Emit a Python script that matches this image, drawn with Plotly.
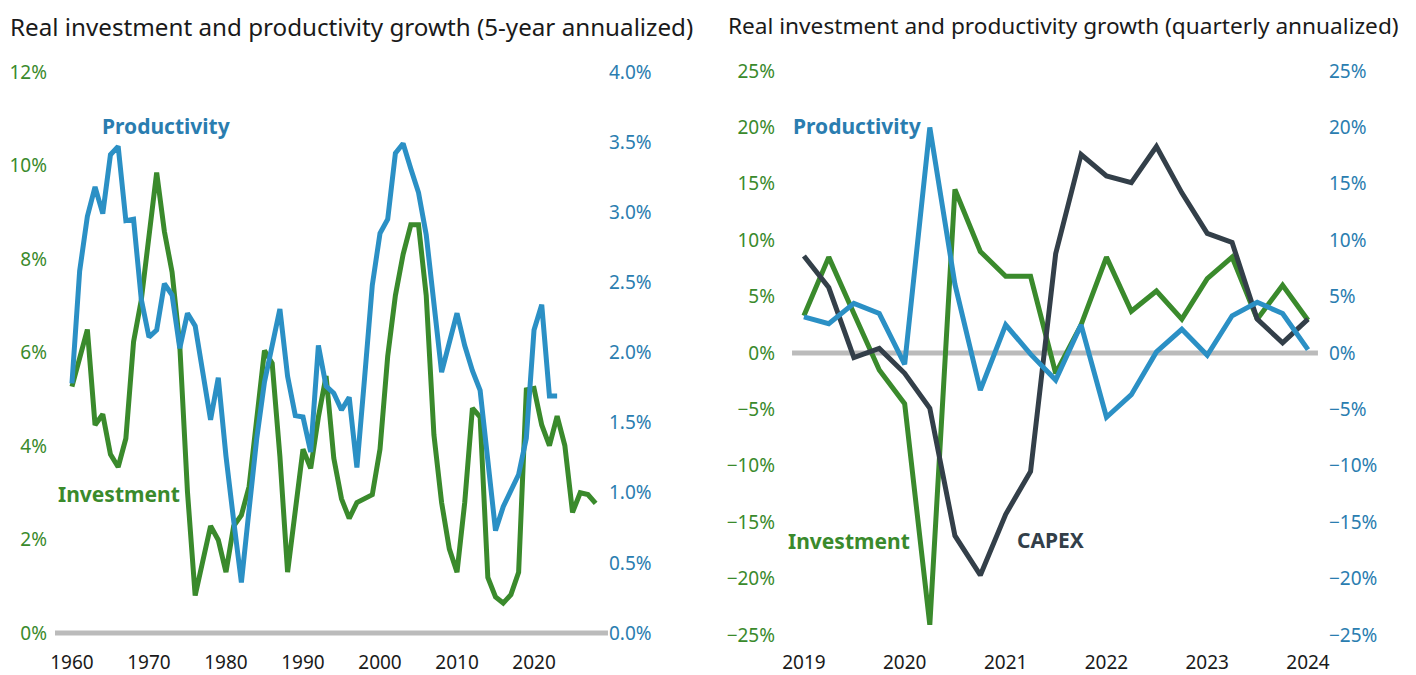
import plotly.graph_objects as go

# Left chart: 5-year annualized growth, annual points
years_inv = list(range(1960, 2029))
investment_5y = [
    5.27, 5.84, 6.49, 4.45, 4.68, 3.82, 3.55, 4.16, 6.23, 7.12,
    8.60, 9.85, 8.59, 7.72, 6.15, 3.02, 0.80, 1.49, 2.29, 1.99,
    1.30, 2.29, 2.52, 3.13, 4.55, 6.04, 5.77, 3.78, 1.30, 2.64,
    3.93, 3.52, 4.62, 5.50, 3.74, 2.87, 2.45, 2.79, 2.88, 2.96,
    3.93, 5.92, 7.22, 8.10, 8.73, 8.73, 7.22, 4.24, 2.79, 1.80,
    1.30, 2.79, 4.81, 4.62, 1.19, 0.77, 0.64, 0.82, 1.30, 5.20,
    5.23, 4.45, 4.01, 4.64, 4.01, 2.58, 3.00, 2.96, 2.77,
]
years_prod = list(range(1960, 2024))
productivity_5y = [
    1.78, 2.58, 2.97, 3.18, 2.99, 3.41, 3.47, 2.94, 2.95, 2.38,
    2.11, 2.16, 2.49, 2.41, 2.03, 2.28, 2.19, 1.85, 1.52, 1.82,
    1.26, 0.80, 0.36, 0.88, 1.39, 1.79, 2.07, 2.31, 1.83, 1.55,
    1.54, 1.29, 2.05, 1.76, 1.71, 1.59, 1.68, 1.18, 1.82, 2.48,
    2.85, 2.95, 3.42, 3.49, 3.31, 3.14, 2.84, 2.35, 1.86, 2.07,
    2.28, 2.05, 1.87, 1.73, 1.21, 0.73, 0.90, 1.02, 1.13, 1.39,
    2.16, 2.34, 1.69, 1.69,
]
left_year_ticks = [1960, 1970, 1980, 1990, 2000, 2010, 2020]
inv_ticks = [0, 2, 4, 6, 8, 10, 12]
inv_tick_text = ["0%", "2%", "4%", "6%", "8%", "10%", "12%"]
prod_ticks = [0, 0.5, 1, 1.5, 2, 2.5, 3, 3.5, 4]
prod_tick_text = ["0.0%", "0.5%", "1.0%", "1.5%", "2.0%", "2.5%", "3.0%", "3.5%", "4.0%"]

# Right chart: quarterly annualized growth, 2019Q1 - 2024Q1
quarters = [
    "2019-01-01", "2019-04-01", "2019-07-01", "2019-10-01",
    "2020-01-01", "2020-04-01", "2020-07-01", "2020-10-01",
    "2021-01-01", "2021-04-01", "2021-07-01", "2021-10-01",
    "2022-01-01", "2022-04-01", "2022-07-01", "2022-10-01",
    "2023-01-01", "2023-04-01", "2023-07-01", "2023-10-01",
    "2024-01-01",
]
investment_q = [
    3.3, 8.5, 3.5, -1.5, -4.5, -24.1, 14.5, 9.0, 6.8, 6.8, -1.8,
    2.5, 8.5, 3.7, 5.5, 3.0, 6.6, 8.5, 3.0, 6.0, 2.9,
]
productivity_q = [
    3.2, 2.6, 4.4, 3.5, -1.0, 20.0, 6.1, -3.3, 2.5, -0.1, -2.4,
    2.5, -5.7, -3.7, 0.1, 2.1, -0.2, 3.3, 4.5, 3.5, 0.3,
]
capex_q = [
    8.6, 5.8, -0.4, 0.4, -1.8, -4.9, -16.2, -19.7, -14.3, -10.5, 8.8,
    17.6, 15.7, 15.1, 18.3, 14.2, 10.6, 9.8, 3.0, 0.9, 3.0,
]
q_ticks = [-25, -20, -15, -10, -5, 0, 5, 10, 15, 20, 25]
q_tick_text = ["\u221225%", "\u221220%", "\u221215%", "\u221210%", "\u22125%", "0%",
               "5%", "10%", "15%", "20%", "25%"]

GREEN = "#3a8a2c"
BLUE = "#2b90c5"
BLUE_TXT = "#2a7db0"
DARK = "#333f49"
GRAY = "#bbbbbb"
FONT = "Noto Sans"

fig = go.Figure()

fig.add_trace(go.Scatter(x=years_inv, y=investment_5y, mode="lines",
                         line=dict(color=GREEN, width=5), xaxis="x", yaxis="y"))
fig.add_trace(go.Scatter(x=years_prod, y=productivity_5y, mode="lines",
                         line=dict(color=BLUE, width=5), xaxis="x", yaxis="y2"))

fig.add_trace(go.Scatter(x=quarters, y=capex_q, mode="lines",
                         line=dict(color=DARK, width=5), xaxis="x2", yaxis="y4"))
fig.add_trace(go.Scatter(x=quarters, y=investment_q, mode="lines",
                         line=dict(color=GREEN, width=5), xaxis="x2", yaxis="y3"))
fig.add_trace(go.Scatter(x=quarters, y=productivity_q, mode="lines",
                         line=dict(color=BLUE, width=5), xaxis="x2", yaxis="y4"))

# the page body adds an 8px offset, so pixel positions below are shifted by -8
ydom = [0.0563, 0.9230]
common = dict(showgrid=False, zeroline=False, showline=False, ticks="",
              automargin=False, tickfont=dict(size=19, family=FONT))

fig.update_layout(
    width=1416, height=675,
    margin=dict(l=0, r=0, t=0, b=0),
    paper_bgcolor="white", plot_bgcolor="white",
    showlegend=False,
    font=dict(family=FONT, color="#1a1a1a"),
    xaxis=dict(domain=[0.0332, 0.4237], range=[1957.8, 2029.6], tickvals=left_year_ticks,
               anchor="y", ticklabelstandoff=4, **common),
    yaxis=dict(domain=ydom, range=[-0.257, 12.257], tickvals=inv_ticks, ticktext=inv_tick_text,
               anchor="x", color=GREEN, ticklabelstandoff=7, **common),
    yaxis2=dict(range=[-0.0856, 4.0856], tickvals=prod_ticks, ticktext=prod_tick_text,
                overlaying="y", side="right", anchor="x", color=BLUE_TXT,
                ticklabelstandoff=0, **common),
    xaxis2=dict(domain=[0.5537, 0.9251], type="date", range=["2018-11-19", "2024-02-06"],
                tick0="2019-01-01", dtick="M12", tickformat="%Y", anchor="y3", ticklabelstandoff=4, **common),
    yaxis3=dict(domain=ydom, range=[-25.89, 25.98], tickvals=q_ticks, ticktext=q_tick_text,
                anchor="x2", color=GREEN, ticklabelstandoff=16, **common),
    yaxis4=dict(range=[-25.89, 25.98], tickvals=q_ticks, ticktext=q_tick_text,
                overlaying="y3", side="right", anchor="x2", color=BLUE_TXT, ticklabelstandoff=10, **common),
)

# gray zero baselines
for xr, yr in [("x domain", "y"), ("x2 domain", "y3")]:
    fig.add_shape(type="line", xref=xr, yref=yr, x0=0, x1=1, y0=0, y1=0,
                  line=dict(color=GRAY, width=5), layer="below")

fig.add_annotation(text="Real investment and productivity growth (5-year annualized)",
                   xref="paper", yref="paper", x=0, y=1, xanchor="left", yanchor="top",
                   showarrow=False, font=dict(size=24.2, family=FONT, color="#1a1a1a"))
fig.add_annotation(text="Real investment and productivity growth (quarterly annualized)",
                   xref="paper", yref="paper", x=718 / 1416, y=1, xanchor="left", yanchor="top",
                   showarrow=False, font=dict(size=22.65, family=FONT, color="#1a1a1a"))

labels = [
    ("Productivity", "x", "y", 1972.2, 10.85, BLUE_TXT),
    ("Investment", "x", "y", 1966.1, 2.97, GREEN),
    ("Productivity", "x2", "y3", "2019-07-12", 20.1, BLUE_TXT),
    ("Investment", "x2", "y3", "2019-06-15", -16.7, GREEN),
    ("CAPEX", "x2", "y3", "2021-06-13", -16.6, DARK),
]
for text, xr, yr, xv, yv, col in labels:
    fig.add_annotation(text=f"<b>{text}</b>", xref=xr, yref=yr, x=xv, y=yv, showarrow=False,
                       font=dict(size=21, family=FONT, color=col))

fig.write_html("out.html")
